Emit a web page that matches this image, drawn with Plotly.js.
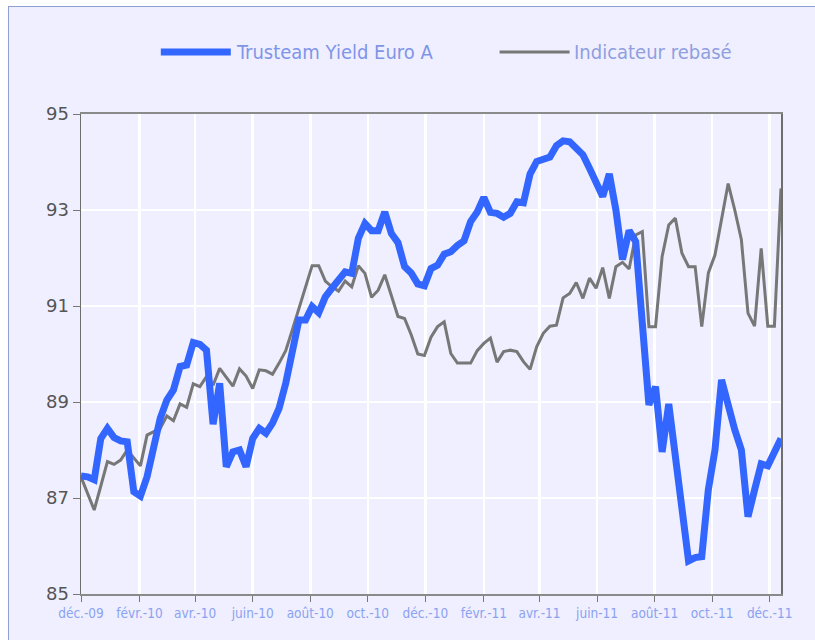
<!DOCTYPE html>
<html>
<head>
<meta charset="utf-8">
<script src="https://cdn.plot.ly/plotly-3.0.1.min.js"></script>
<style>
  html, body { margin:0; padding:0; background:#ffffff; width:815px; height:640px; overflow:hidden; }
  #frame { position:absolute; left:8px; top:6px; width:900px; height:700px; background:#EFEFFF; border-left:1px solid #8E9FD4; border-top:1px solid #8E9FD4; }
  #chart { position:absolute; left:0; top:0; width:815px; height:640px; }
</style>
</head>
<body>
<div id="frame"></div>
<div id="chart"></div>
<script>
// Weekly dates
const dates = [
 "2009-12-01","2009-12-08","2009-12-15","2009-12-22","2009-12-29",
 "2010-01-05","2010-01-12","2010-01-19","2010-01-26",
 "2010-02-02","2010-02-09","2010-02-16","2010-02-23",
 "2010-03-02","2010-03-09","2010-03-16","2010-03-23","2010-03-30",
 "2010-04-06","2010-04-13","2010-04-20","2010-04-27",
 "2010-05-04","2010-05-11","2010-05-18","2010-05-25",
 "2010-06-01","2010-06-08","2010-06-15","2010-06-22","2010-06-29",
 "2010-07-06","2010-07-13","2010-07-20","2010-07-27",
 "2010-08-03","2010-08-10","2010-08-17","2010-08-24","2010-08-31",
 "2010-09-07","2010-09-14","2010-09-21","2010-09-28",
 "2010-10-05","2010-10-12","2010-10-19","2010-10-26",
 "2010-11-02","2010-11-09","2010-11-16","2010-11-23","2010-11-30",
 "2010-12-07","2010-12-14","2010-12-21","2010-12-28",
 "2011-01-04","2011-01-11","2011-01-18","2011-01-25",
 "2011-02-01","2011-02-08","2011-02-15","2011-02-22",
 "2011-03-01","2011-03-08","2011-03-15","2011-03-22","2011-03-29",
 "2011-04-05","2011-04-12","2011-04-19","2011-04-26",
 "2011-05-03","2011-05-10","2011-05-17","2011-05-24","2011-05-31",
 "2011-06-07","2011-06-14","2011-06-21","2011-06-28",
 "2011-07-05","2011-07-12","2011-07-19","2011-07-26",
 "2011-08-02","2011-08-09","2011-08-16","2011-08-23","2011-08-30",
 "2011-09-06","2011-09-13","2011-09-20","2011-09-27",
 "2011-10-04","2011-10-11","2011-10-18","2011-10-25",
 "2011-11-01","2011-11-08","2011-11-15","2011-11-22","2011-11-29",
 "2011-12-06","2011-12-13"
];

const trusteam = [
 87.46,87.44,87.38,88.24,88.45,88.26,88.19,88.17,87.13,87.04,
 87.44,88.07,88.66,89.04,89.25,89.74,89.77,90.24,90.20,90.08,
 88.54,89.39,87.65,87.96,88.00,87.65,88.24,88.45,88.35,88.56,
 88.87,89.39,90.08,90.71,90.71,90.99,90.86,91.19,91.37,91.54,
 91.71,91.68,92.41,92.72,92.57,92.57,92.96,92.51,92.32,91.82,
 91.69,91.46,91.42,91.78,91.85,92.08,92.13,92.26,92.36,92.76,
 92.96,93.26,92.95,92.93,92.85,92.93,93.17,93.15,93.75,94.01,
 94.06,94.10,94.34,94.44,94.42,94.28,94.15,93.87,93.61,93.28,
 93.75,93.00,91.97,92.57,92.34,90.70,88.94,89.32,87.96,88.96,
 87.90,86.95,85.69,85.76,85.78,87.18,88.00,89.46,88.90,88.42,
 88.00,86.61,87.17,87.71,87.67,87.94,88.24
];

const indicateur = [
 87.44,87.10,86.75,87.25,87.76,87.70,87.79,88.00,87.83,87.67,
 88.31,88.38,88.45,88.71,88.61,88.96,88.89,89.38,89.32,89.53,
 89.35,89.70,89.51,89.33,89.69,89.54,89.28,89.67,89.65,89.58,
 89.81,90.07,90.50,90.95,91.40,91.84,91.84,91.52,91.40,91.31,
 91.52,91.40,91.84,91.68,91.18,91.33,91.65,91.19,90.78,90.74,
 90.40,90.00,89.97,90.35,90.57,90.67,90.01,89.81,89.81,89.81,
 90.07,90.22,90.33,89.83,90.05,90.08,90.05,89.84,89.68,90.15,
 90.43,90.58,90.60,91.17,91.26,91.49,91.16,91.58,91.37,91.80,
 91.16,91.82,91.91,91.77,92.48,92.55,90.57,90.57,92.03,92.69,
 92.83,92.10,91.82,91.82,90.57,91.69,92.06,92.79,93.55,93.00,
 92.38,90.85,90.58,92.20,90.58,90.58,93.45
];

const tickDates = ["2009-12-01","2010-02-01","2010-04-01","2010-06-01","2010-08-01","2010-10-01","2010-12-01",
                   "2011-02-01","2011-04-01","2011-06-01","2011-08-01","2011-10-01","2011-12-01"];
const tickLabels = ["déc.-09","févr.-10","avr.-10","juin-10","août-10","oct.-10","déc.-10",
                    "févr.-11","avr.-11","juin-11","août-11","oct.-11","déc.-11"];
const seriesNames = ["Trusteam Yield Euro A", "Indicateur rebasé"];

const narrow = '"Liberation Sans Narrow", "DejaVu Sans Condensed", "Roboto", sans-serif';

const traces = [
  { x: dates, y: indicateur, type: 'scatter', mode: 'lines', name: seriesNames[1],
    line: { color: '#777777', width: 3 }, showlegend: false, hoverinfo: 'x+y' },
  { x: dates, y: trusteam, type: 'scatter', mode: 'lines', name: seriesNames[0],
    line: { color: '#3366FF', width: 7 }, showlegend: false, hoverinfo: 'x+y' }
];

const layout = {
  width: 815, height: 640,
  margin: { l: 81, r: 34, t: 114, b: 46 },
  paper_bgcolor: 'rgba(0,0,0,0)',
  plot_bgcolor: '#EFEFFF',
  showlegend: false,
  xaxis: {
    type: 'date',
    range: ['2009-12-01', '2011-12-13'],
    tickvals: tickDates, ticktext: tickLabels,
    tickfont: { family: narrow, size: 13.5, color: '#8AA2F2' },
    ticks: 'outside', ticklen: 6, tickcolor: '#777777', tickwidth: 1,
    showgrid: true, gridcolor: '#FFFFFF', gridwidth: 2.5,
    showline: true, linecolor: '#8A8A8A', linewidth: 2, mirror: true,
    zeroline: false, fixedrange: true
  },
  yaxis: {
    range: [85, 95], dtick: 2, tick0: 85,
    tickfont: { family: '"DejaVu Sans", sans-serif', size: 18, color: '#555555' },
    ticks: 'outside', ticklen: 7, tickcolor: '#777777', tickwidth: 1,
    showgrid: true, gridcolor: '#FFFFFF', gridwidth: 2.5,
    showline: true, linecolor: '#6E6E6E', linewidth: 1.5, mirror: true,
    zeroline: false, fixedrange: true
  },
  shapes: [
    { type: 'line', xref: 'paper', yref: 'paper', x0: 0.114, x1: 0.214, y0: 1.129, y1: 1.129,
      line: { color: '#3366FF', width: 7 } },
    { type: 'line', xref: 'paper', yref: 'paper', x0: 0.598, x1: 0.698, y0: 1.129, y1: 1.129,
      line: { color: '#777777', width: 3 } }
  ],
  annotations: [
    { xref: 'paper', yref: 'paper', x: 0.219, y: 1.129, xanchor: 'left', yanchor: 'middle',
      text: seriesNames[0], showarrow: false,
      font: { family: narrow, size: 20, color: '#7F95E8' } },
    { xref: 'paper', yref: 'paper', x: 0.702, y: 1.129, xanchor: 'left', yanchor: 'middle',
      text: seriesNames[1], showarrow: false,
      font: { family: narrow, size: 20, color: '#8F9FE0' } }
  ]
};

Plotly.newPlot('chart', traces, layout, { displayModeBar: false, staticPlot: true });
</script>
</body>
</html>
